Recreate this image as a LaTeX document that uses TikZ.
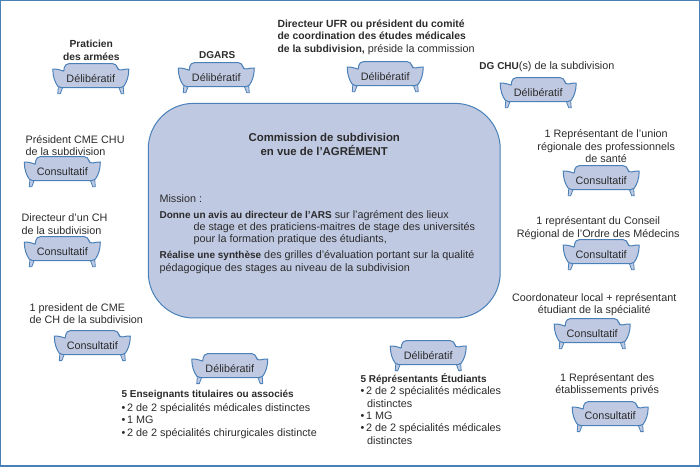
\documentclass[tikz,border=0pt]{standalone}
\usepackage{fontspec}
\setmainfont{Liberation Sans}
\definecolor{cnsblue}{HTML}{4A80B8}
\definecolor{cnsfill}{HTML}{C0C9E2}
\definecolor{cnstext}{HTML}{2B2B2B}
\newcommand{\gras}[1]{{\fontsize{7.5}{9.3}\selectfont\bfseries #1}}
\newcommand{\sofa}[3]{%
  \begin{scope}[shift={(#1)}]
    \draw[sofaleg] (-32.5,9) -- (-33,15.5) -- (-30.5,15.5) -- (-28,9);
    \draw[sofaleg] (32.5,9) -- (33,15.5) -- (30.5,15.5) -- (28,9);
    \draw[sofaline] (-27,-7) [rounded corners=3pt] -- (-26,-14.5) -- (26,-14.5) -- (27,-7) [sharp corners]
      .. controls (30,-8) and (34,-9.5) .. (38,-9) .. controls (38,-2) and (36,4) .. (33,8)
      .. controls (31,9.5) and (29,9.5) .. (27,9.5) -- (-27,9.5)
      .. controls (-29,9.5) and (-31,9.5) .. (-33,8) .. controls (-36,4) and (-38,-2) .. (-38,-9)
      .. controls (-34,-9.5) and (-30,-8) .. (-27,-7);
    \node[seat] (#2) at (0,0) {#3};
  \end{scope}}
\begin{document}
\begin{tikzpicture}[x=0.75pt,y=-0.75pt,
    sofaline/.style={draw=cnsblue, fill=cnsfill, line width=0.75pt},
    sofaleg/.style={draw=cnsblue, fill=cnsfill, line width=0.6pt},
    seat/.style={font=\fontsize{8.1}{9.3}\selectfont, text=cnstext, inner sep=0pt},
    lab/.style={font=\fontsize{8.1}{9.3}\selectfont, text=cnstext, inner sep=0pt, align=center},
    labl/.style={lab, align=left, anchor=west},
    big/.style={font=\fontsize{8.55}{10.4}\selectfont\bfseries, text=cnstext, inner sep=0pt, align=center}]
  \node[draw=cnsblue, line width=1.1pt, inner sep=0pt, minimum width=524pt, minimum height=349.1pt] (frame) at (349.75,233.25) {};
  \node[draw=cnsblue, fill=cnsfill, line width=0.75pt, rounded corners=34pt, minimum width=264pt, minimum height=161pt, inner sep=0pt] (comm) at (324,210.5) {};
  \node[big] (title) at (324,144) {Commission de subdivision\\en vue de l’AGRÉMENT};
  \node[labl] (mission) at (159,198) {Mission :};
  \node[labl] (avis) at (159,227.5) {\gras{Donne un avis au directeur de l’ARS} sur l’agrément des lieux\\\hspace*{25.5pt}de stage et des praticiens-maitres de stage des universités\\\hspace*{25.5pt}pour la formation pratique des étudiants,};
  \node[labl] (synth) at (159,262) {\gras{Réalise une synthèse} des grilles d’évaluation portant sur la qualité\\pédagogique des stages au niveau de la subdivision};
  % haut
  \sofa{90.5,78}{s1}{Délibératif}
  \node[lab, font=\fontsize{7.7}{9.3}\selectfont\bfseries] (l1) at (91,50) {Praticien\\des armées};
  \sofa{216,77}{s2}{Délibératif}
  \node[lab, font=\fontsize{7.5}{9.3}\selectfont\bfseries] (l2) at (217,55) {DGARS};
  \sofa{385,76}{s3}{Délibératif}
  \node[labl] (l3) at (277,37) {\textbf{\fontsize{7.8}{9.3}\selectfont Directeur UFR ou président du comité}\\\textbf{\fontsize{7.8}{9.3}\selectfont de coordination des études médicales}\\\textbf{\fontsize{7.8}{9.3}\selectfont de la subdivision,} préside la commission};
  \sofa{538,92}{s4}{Délibératif}
  \node[labl] (l4) at (479,67) {\gras{DG CHU}(s) de la subdivision};
  % gauche
  \sofa{62,171}{s5}{Consultatif}
  \node[labl] (l5) at (25,145.5) {Président CME CHU\\de la subdivision};
  \sofa{62,251}{s6}{Consultatif}
  \node[labl] (l6) at (21,224) {Directeur d’un CH\\de la subdivision};
  \sofa{92,345}{s7}{Consultatif}
  \node[labl] (l7) at (29,313.5) {1 president de CME\\de CH de la subdivision};
  % bas
  \sofa{229.5,368}{s8}{Délibératif}
  \node[labl, anchor=north west] (l8) at (121,389.5) {\gras{5 Enseignants titulaires ou associés}\\[1.2pt]\textbullet\,2 de 2 spécialités médicales distinctes\\\textbullet\,1 MG\\\textbullet\,2 de 2 spécialités chirurgicales distincte};
  \sofa{428,355}{s9}{Délibératif}
  \node[labl, anchor=north west] (l9) at (360,373) {\gras{5 Réprésentants Étudiants}\\\textbullet\,2 de 2 spécialités médicales\\\hspace*{5pt}distinctes\\\textbullet\,1 MG\\\textbullet\,2 de 2 spécialités médicales\\\hspace*{5pt}distinctes};
  % droite
  \sofa{601,180}{s10}{Consultatif}
  \node[lab] (l10) at (606,146) {1 Représentant de l’union\\régionale des professionnels\\de santé};
  \sofa{601,254}{s11}{Consultatif}
  \node[lab] (l11) at (598,228) {1 représentant du Conseil\\Régional de l’Ordre des Médecins};
  \sofa{592,333}{s12}{Consultatif}
  \node[lab] (l12) at (594,304.5) {Coordonateur local + représentant\\étudiant de la spécialité};
  \sofa{610,416}{s13}{Consultatif}
  \node[lab] (l13) at (607,384.5) {1 Représentant des\\établissements privés};
\end{tikzpicture}
\end{document}
